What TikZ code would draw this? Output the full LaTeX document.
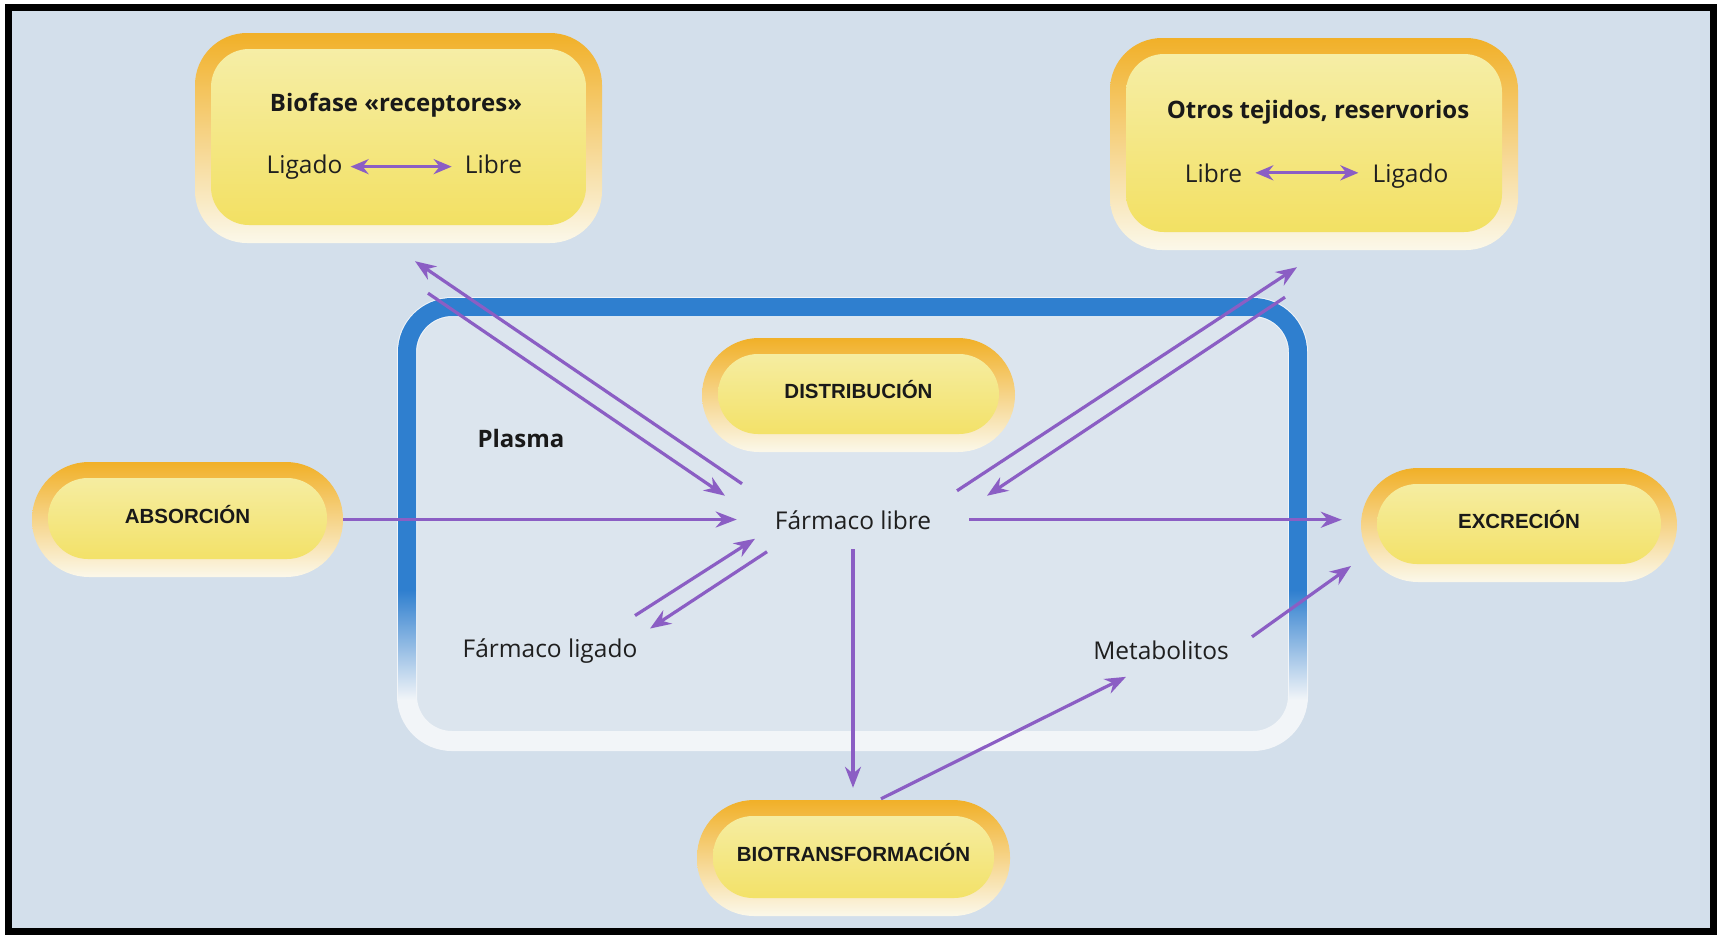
\documentclass[tikz,border=0pt]{standalone}
\usepackage{fontspec}
\setmainfont{Open Sans}
\newfontfamily\capsfont{Liberation Sans}
\usetikzlibrary{arrows.meta}

\definecolor{bgblue}{HTML}{D3DFEB}
\definecolor{plasmafill}{HTML}{DCE5EE}
\definecolor{plasmablue}{HTML}{2F7FCF}
\definecolor{plasmawhite}{HTML}{F2F5F8}
\definecolor{ringorange}{HTML}{F1B028}
\definecolor{ringmid}{HTML}{F5D250}
\definecolor{ringcream}{HTML}{FBF8EA}
\definecolor{innerpale}{HTML}{F6EFAC}
\definecolor{inneryellow}{HTML}{F2DF5C}
\definecolor{flowpurple}{HTML}{8B5EC4}

\begin{document}
\begin{tikzpicture}[x=1pt,y=-1pt,
  glowbox/.style n args={4}{rectangle, minimum width=#1, minimum height=#2,
    inner sep=0pt, rounded corners=#3,
    top color=ringorange, middle color=ringmid, bottom color=ringcream,
    path picture={\shade[rounded corners=#4, top color=innerpale, bottom color=inneryellow]
      ([shift={(16,16)}]path picture bounding box.north west) rectangle
      ([shift={(-16,-18)}]path picture bounding box.south east);}},
  stage/.style={font=\capsfont\bfseries\fontsize{20.5}{24}\selectfont, text=black!90,
    text height=15pt, text depth=8pt},
  body/.style={font=\fontsize{24.5}{28}\selectfont, text=black!88, inner sep=0pt},
  heading/.style={font=\bfseries\fontsize{24}{28}\selectfont, text=black!90, inner sep=0pt},
  flow/.style={draw=flowpurple, line width=3.2pt, -{Stealth[length=21pt,width=16pt]}},
  swap/.style={draw=flowpurple, line width=3.2pt,
    {Stealth[length=18pt,width=15pt]}-{Stealth[length=18pt,width=15pt]}}
]
% page, frame and background
\useasboundingbox (0,0) rectangle (1721,935);
\fill[white] (0,0) rectangle (1721,935);
\fill[bgblue] (8.5,7.5) rectangle (1713.5,931.5);
\draw[black, line width=7pt] (8.5,7.5) rectangle (1713.5,931.5);

% plasma compartment: blue top fading into a white lower rim
\fill[plasmafill, rounded corners=45pt] (407,307) rectangle (1298,741);
\draw[plasmawhite, line width=20pt, rounded corners=45pt] (407,307) rectangle (1298,741);
\draw[plasmablue, line width=18pt, rounded corners=45pt]
  (407,590) -- (407,307) -- (1298,307) -- (1298,590);
\shade[top color=plasmablue, bottom color=plasmawhite] (398,590) rectangle (416,700);
\shade[top color=plasmablue, bottom color=plasmawhite] (1289,590) rectangle (1307,700);

% stage capsules
\node[glowbox={311pt}{115pt}{57pt}{40pt}, stage] (absor) at (187.5,519.5) {ABSORCIÓN};
\node[glowbox={313pt}{114pt}{57pt}{40pt}, stage] (distrib) at (858.5,395) {DISTRIBUCIÓN};
\node[glowbox={316pt}{114pt}{57pt}{40pt}, stage] (excre) at (1519,525) {EXCRECIÓN};
\node[glowbox={313pt}{116pt}{57pt}{40pt}, stage] (biotrans) at (853.5,858) {BIOTRANSFORMACIÓN};

% compartments with bound/free equilibrium
\node[glowbox={407pt}{210pt}{52pt}{38pt}] (biofase) at (398.5,138) {};
\node[glowbox={408pt}{212pt}{52pt}{38pt}] (otros) at (1314,144) {};

\node[heading, anchor=base] (biotitle) at (396,111) {Biofase «receptores»};
\node[body, anchor=base] (bligado) at (304.5,173) {Ligado};
\node[body, anchor=base] (blibre) at (493.5,173) {Libre};
\draw[swap, shorten <=8pt, shorten >=13pt] (bligado.east) -- (bligado.east -| blibre.west);

\node[heading, anchor=base] (otitle) at (1318,118) {Otros tejidos, reservorios};
\node[body, anchor=base] (olibre) at (1213.5,182) {Libre};
\node[body, anchor=base] (oligado) at (1410.5,182) {Ligado};
\draw[swap, shorten <=13pt, shorten >=14pt] (olibre.east) -- (olibre.east -| oligado.west);

% plasma contents
\node[heading, anchor=base] (plasma) at (521,447) {Plasma};
\node[body, anchor=base, inner xsep=38pt, inner ysep=20pt] (libre) at (853,529) {Fármaco libre};
\node[body, anchor=base] (ligado) at (550,657) {Fármaco ligado};
\node[body, anchor=base] (metab) at (1161,659) {Metabolitos};

% drug movements
\draw[flow] (absor.east) -- (absor.east -| libre.west);
\draw[flow, shorten >=19pt] (libre.east) -- (libre.east -| excre.west);
\draw[flow, shorten >=12pt] (libre.south) -- (libre.south |- biotrans.north);
\draw[flow] ([shift={(27.5,-1)}]biotrans.north) -- ([shift={(-35,27)}]metab.center);
\draw[flow] ([shift={(91,-13)}]metab.center) -- ([shift={(-168,41)}]excre.center);
\draw[flow] ([shift={(85,-35)}]ligado.center) -- ([shift={(-98,19)}]libre.center);
\draw[flow] ([shift={(-86,32)}]libre.center) -- ([shift={(100,-22)}]ligado.center);
\draw[flow] ([shift={(29.5,50)}]biofase.south) -- ([shift={(-128,-24)}]libre.center);
\draw[flow] ([shift={(-111,-36)}]libre.center) -- ([shift={(16.5,18)}]biofase.south);
\draw[flow] ([shift={(104,-29)}]libre.center) -- ([shift={(-17,17)}]otros.south);
\draw[flow] ([shift={(-29,47)}]otros.south) -- ([shift={(134,-24)}]libre.center);
\end{tikzpicture}
\end{document}
